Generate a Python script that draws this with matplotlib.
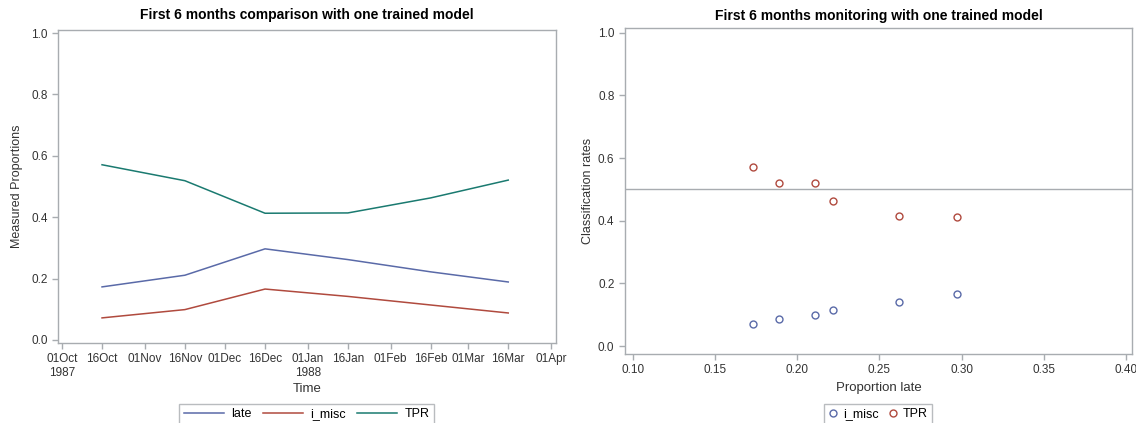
import matplotlib
matplotlib.use("Agg")
import matplotlib.pyplot as plt
import matplotlib.dates as mdates
import numpy as np
import datetime as dt

plt.rcParams['font.family'] = ['Liberation Sans', 'DejaVu Sans']

# data
dates = [dt.date(1987, 10, 16), dt.date(1987, 11, 16), dt.date(1987, 12, 16),
         dt.date(1988, 1, 16), dt.date(1988, 2, 16), dt.date(1988, 3, 16)]
late = [0.173, 0.211, 0.297, 0.262, 0.222, 0.189]
i_misc = [0.072, 0.099, 0.166, 0.142, 0.114, 0.088]
tpr = [0.571, 0.519, 0.413, 0.414, 0.463, 0.521]

tick_dates = [dt.date(1987, 10, 1), dt.date(1987, 10, 16), dt.date(1987, 11, 1),
              dt.date(1987, 11, 16), dt.date(1987, 12, 1), dt.date(1987, 12, 16),
              dt.date(1988, 1, 1), dt.date(1988, 1, 16), dt.date(1988, 2, 1),
              dt.date(1988, 2, 16), dt.date(1988, 3, 1), dt.date(1988, 3, 16),
              dt.date(1988, 4, 1)]
tick_labels = ["01Oct\n1987", "16Oct", "01Nov", "16Nov", "01Dec", "16Dec",
               "01Jan\n1988", "16Jan", "01Feb", "16Feb", "01Mar", "16Mar", "01Apr"]
y_ticks = [0.0, 0.2, 0.4, 0.6, 0.8, 1.0]
x2_ticks = [0.10, 0.15, 0.20, 0.25, 0.30, 0.35, 0.40]
ref_line = 0.5

c_blue = '#5a6aa8'
c_red = '#b04a3e'
c_teal = '#1a7a70'
c_frame = '#a8acb0'
c_text = '#333333'

fig = plt.figure(figsize=(11.36, 4.23), dpi=100)
ax = fig.add_axes([0.051, 0.189, 0.4385, 0.740])
ax2 = fig.add_axes([0.550, 0.163, 0.4465, 0.771])

def style(a):
    for s in a.spines.values():
        s.set_color(c_frame)
        s.set_linewidth(1.0)
    a.tick_params(colors=c_frame, labelcolor=c_text, labelsize=8.5, length=4, width=1,
                  direction='out', top=False, right=False)

# left: time series
x = mdates.date2num(dates)
l1, = ax.plot(x, late, '-', c=c_blue, lw=1.1)
l2, = ax.plot(x, i_misc, '-', c=c_red, lw=1.1)
l3, = ax.plot(x, tpr, '-', c=c_teal, lw=1.1)
xt = mdates.date2num(tick_dates)
ax.set_xticks(xt)
ax.set_xticklabels(tick_labels)
ax.set_xlim(xt[0] - 1.5, xt[-1] + 1.9)
ax.set_yticks(y_ticks)
ax.set_yticklabels(["%.1f" % v for v in y_ticks])
ax.set_ylim(-0.01, 1.01)
style(ax)
ax.set_xlabel("Time", fontsize=9.5, color=c_text, labelpad=3)
ax.set_ylabel("Measured Proportions", fontsize=9, color=c_text, labelpad=6)
ax.set_title("First 6 months comparison with one trained model", fontsize=10,
             fontweight='bold', color='black', pad=8)
fig.legend([l1, l2, l3], ["late", "i_misc", "TPR"], loc='upper center',
           bbox_to_anchor=(0.27, 0.045), borderaxespad=0, ncol=3, frameon=True,
           fancybox=False, edgecolor=c_frame, fontsize=9, handlelength=3.2,
           columnspacing=0.9, handletextpad=0.6, borderpad=0.35)

# right: scatter
m1, = ax2.plot(late, i_misc, 'o', mfc='none', mec=c_blue, ms=5, mew=1)
m2, = ax2.plot(late, tpr, 'o', mfc='none', mec=c_red, ms=5, mew=1)
ax2.axhline(ref_line, color=c_frame, lw=1)
ax2.set_xticks(x2_ticks)
ax2.set_xticklabels(["%.2f" % v for v in x2_ticks])
ax2.set_xlim(0.10 - 0.0049, 0.40 + 0.0037)
ax2.set_yticks(y_ticks)
ax2.set_yticklabels(["%.1f" % v for v in y_ticks])
ax2.set_ylim(-0.025, 1.015)
style(ax2)
ax2.set_xlabel("Proportion late", fontsize=9.5, color=c_text, labelpad=4)
ax2.set_ylabel("Classification rates", fontsize=9, color=c_text, labelpad=3)
ax2.set_title("First 6 months monitoring with one trained model", fontsize=10,
              fontweight='bold', color='black', pad=6)
fig.legend([m1, m2], ["i_misc", "TPR"], loc='upper center',
           bbox_to_anchor=(0.773, 0.045), borderaxespad=0, ncol=2, frameon=True,
           fancybox=False, edgecolor=c_frame, fontsize=9, handlelength=0.8,
           columnspacing=0.7, handletextpad=0.4, borderpad=0.35)

fig.savefig("out.png", dpi=100)
